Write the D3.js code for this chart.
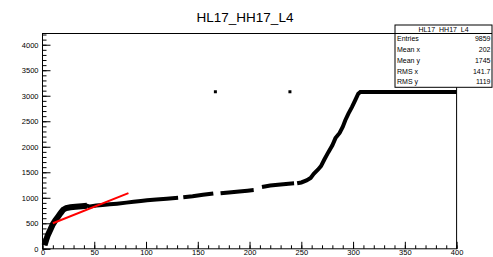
<!DOCTYPE html>
<html>
<head>
<meta charset="utf-8">
<script src="https://cdn.jsdelivr.net/npm/d3@7"></script>
<style>
  body { margin: 0; background: #fff; }
  text { font-family: "Liberation Sans", Arial, Helvetica, sans-serif; }
</style>
</head>
<body>
<svg id="chart" width="493" height="257"></svg>
<script>
// scatter; null marks a visible gap in the band
const curveX = [2, 3.5, 5, 7, 10, 12.5, 15, 17.5, 20, 23, 27, 32, 38, 43, 46, 52, 58, 65, 72, 81, 88, 95, 101, 110, 120, 131,
  133, 136, 145, 155, 165, 168, 172, 180, 190, 198, 204, 208, 212, 220, 230, 243, 244.5, 246, 250, 255, 259, 262, 266, 269, 272,
  276, 280, 283, 287, 290, 292.5, 295.5, 299, 302, 305, 307, 330, 360, 400]
const curveY = [70, 170, 260, 350, 480, 560, 630, 700, 765, 800, 815, 825, 835, 845, 828, 850, 860, 872, 885, 905, 920, 935, 950, 965, 982, 1001,
  null, 1009, 1030, 1058, 1085, null, 1088, 1105, 1125, 1140, 1152, null, 1210, 1240, 1262, 1283, null, 1285, 1300, 1340, 1390, 1470, 1550, 1620, 1740,
  1890, 2030, 2170, 2270, 2390, 2520, 2650, 2780, 2910, 3040, 3075, 3075, 3075, 3075]
const strayX = [167, 239]
const strayY = [3078, 3078]
const fitX = [10, 83]
const fitY = [500, 1090]
const xTicks = d3.range(0, 401, 50)
const yTicks = d3.range(0, 4001, 500)
const statNames = ['Entries', 'Mean x', 'Mean y', 'RMS x', 'RMS y']
const statValues = ['9859', '202', '1745', '141.7', '1119']
const title = 'HL17_HH17_L4'

const svg = d3.select('#chart')
const frameL = 42.5
const frameR = 456.6
const frameT = 33.5
const frameB = 248.8

const x = d3.scaleLinear().domain([0, 400]).range([frameL, frameR])
const y = d3.scaleLinear().domain([0, 4220]).range([frameB, frameT])

svg.append('rect').attr('width', 493).attr('height', 257).attr('fill', '#fff')

// ticks point into the frame, ROOT style
const gx = svg.append('g').attr('transform', 'translate(0,' + frameB + ')')
gx.call(d3.axisBottom(x).tickValues(d3.range(0, 401, 10)).tickSize(-3.5).tickFormat(''))
gx.append('g').call(d3.axisBottom(x).tickValues(xTicks).tickSize(-7).tickPadding(1.2).tickFormat(d3.format('d')))
gx.selectAll('.domain').remove()

const gy = svg.append('g').attr('transform', 'translate(' + frameL + ',0)')
gy.call(d3.axisLeft(y).tickValues(d3.range(0, 4201, 100)).tickSize(-4).tickFormat(''))
gy.append('g').call(d3.axisLeft(y).tickValues(yTicks).tickSize(-8).tickPadding(4).tickFormat(d3.format('d')))
gy.selectAll('.domain').remove()

svg.selectAll('.tick line').attr('stroke', '#000')
svg.selectAll('.tick text').attr('font-size', 7.5).attr('fill', '#000')
  .attr('font-family', '"Liberation Sans", Arial, sans-serif')

svg.append('rect')
  .attr('x', frameL).attr('y', frameT)
  .attr('width', frameR - frameL).attr('height', frameB - frameT)
  .attr('fill', 'none').attr('stroke', '#000')

const line = d3.line()
  .defined((d, i) => curveY[i] !== null)
  .x((d, i) => x(curveX[i]))
  .y((d, i) => y(curveY[i]))

svg.append('path')
  .datum(curveX)
  .attr('d', line)
  .attr('fill', 'none')
  .attr('stroke', '#000')
  .attr('stroke-width', 4)

// the steep start is a wider band of points
svg.append('path')
  .datum(curveX.slice(0, 14))
  .attr('d', line)
  .attr('fill', 'none')
  .attr('stroke', '#000')
  .attr('stroke-width', 6)

svg.selectAll('.stray')
  .data(strayX)
  .join('rect')
  .attr('x', (d) => x(d) - 1.5)
  .attr('y', (d, i) => y(strayY[i]) - 1.5)
  .attr('width', 3).attr('height', 3)
  .attr('fill', '#000')

svg.append('path')
  .datum(fitX)
  .attr('d', d3.line().x((d) => x(d)).y((d, i) => y(fitY[i])))
  .attr('stroke', '#ff0000')
  .attr('stroke-width', 2)

svg.append('text')
  .attr('x', 245).attr('y', 21.5)
  .attr('text-anchor', 'middle')
  .attr('font-size', 13.5)
  .text(title)

// stats box
const bx = 395
const bw = 97
const by = 25
const bh = 62.3
const row = (bh - 8.5) / statNames.length
svg.append('rect')
  .attr('x', bx).attr('y', by).attr('width', bw).attr('height', bh)
  .attr('fill', '#fff').attr('stroke', '#000')
svg.append('line')
  .attr('x1', bx).attr('x2', bx + bw).attr('y1', by + 8.5).attr('y2', by + 8.5)
  .attr('stroke', '#000')
svg.append('text')
  .attr('x', bx + bw / 2).attr('y', by + 7)
  .attr('text-anchor', 'middle').attr('font-size', 7)
  .text(title)
statNames.forEach((name, i) => {
  const ty = by + 8.5 + row * (i + 0.5) + 2.5
  svg.append('text').attr('x', bx + 2).attr('y', ty).attr('font-size', 7).text(name)
  svg.append('text').attr('x', bx + bw - 1.5).attr('y', ty)
    .attr('text-anchor', 'end').attr('font-size', 7).text(statValues[i])
})
</script>
</body>
</html>
